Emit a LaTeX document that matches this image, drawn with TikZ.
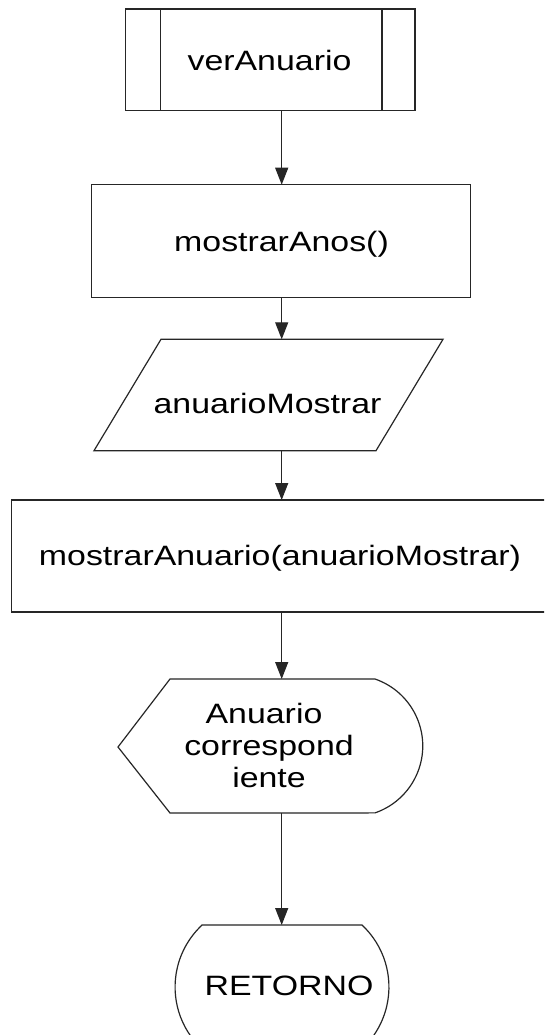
\documentclass[tikz,border=0pt]{standalone}
\usepackage{fontspec}
\usepackage{graphicx}
\setmainfont{Liberation Sans}
\usetikzlibrary{arrows.meta}
\tikzset{
  shp/.style={draw=black!85, line width=1.2pt, line join=miter},
  lbl/.style={inner sep=0pt, anchor=base, font=\fontsize{28}{32}\selectfont, text=black},
  flow/.style={draw=black!85, line width=1.2pt, -{Triangle[width=13pt,length=17pt]}},
}
\newcommand{\wtxt}[1]{\scalebox{1.21}[1]{#1}}
\begin{document}
\begin{tikzpicture}[x=1pt,y=-1pt]
\useasboundingbox (0,0) rectangle (544,1035);
\fill[white] (0,0) rectangle (544,1035);
\clip (0,0) rectangle (544,1035);

% subroutine box
\draw[shp] (125.7,9) rectangle (415,110.7);
\draw[shp] (160.3,9) -- (160.3,110.7);
\draw[shp] (382,9) -- (382,110.7);
\node[lbl] (tsub) at (269.5,70.7) {\wtxt{verAnuario}};
\coordinate (subB) at (281.7,110.7);

% process mostrarAnos
\draw[shp] (91.3,184.7) rectangle (470.7,297.3);
\node[lbl] (tanos) at (281.5,251) {\wtxt{mostrarAnos()}};
\coordinate (anosT) at (281.7,184.7);
\coordinate (anosB) at (281.7,297.3);

% input parallelogram
\draw[shp] (161,339.3) -- (443,339.3) -- (376,450.7) -- (94,450.7) -- cycle;
\node[lbl] (tin) at (267.5,413) {\wtxt{anuarioMostrar}};
\coordinate (inT) at (281.7,339.3);
\coordinate (inB) at (281.7,450.7);

% process mostrarAnuario
\draw[shp] (11.3,500) rectangle (552,612);
\node[lbl] (tproc) at (280,565) {\wtxt{mostrarAnuario(anuarioMostrar)}};
\coordinate (procT) at (281.7,500);
\coordinate (procB) at (281.7,612);

% display shape
\draw[shp] (170,679) -- (375,679)
  arc[start angle=-71, end angle=71, radius=70.8] -- (170,813) -- (118,747) -- cycle;
\node[lbl] (td1) at (264,723) {\wtxt{Anuario}};
\node[lbl] (td2) at (269,755.5) {\wtxt{correspond}};
\node[lbl] (td3) at (269,787) {\wtxt{iente}};
\coordinate (dispT) at (281.7,679);
\coordinate (dispB) at (281.7,813);

% terminal RETORNO
\draw[shp] (202,925) -- (362,925)
  arc[start angle=-47, end angle=47, radius=84.7] -- (202,1049)
  arc[start angle=133, end angle=227, radius=84.7] -- cycle;
\node[lbl] (tret) at (289,995) {\wtxt{RETORNO}};
\coordinate (retT) at (281.7,925);

% connectors
\draw[flow] (subB) -- (anosT);
\draw[flow] (anosB) -- (inT);
\draw[flow] (inB) -- (procT);
\draw[flow] (procB) -- (dispT);
\draw[flow] (dispB) -- (retT);
\end{tikzpicture}
\end{document}
